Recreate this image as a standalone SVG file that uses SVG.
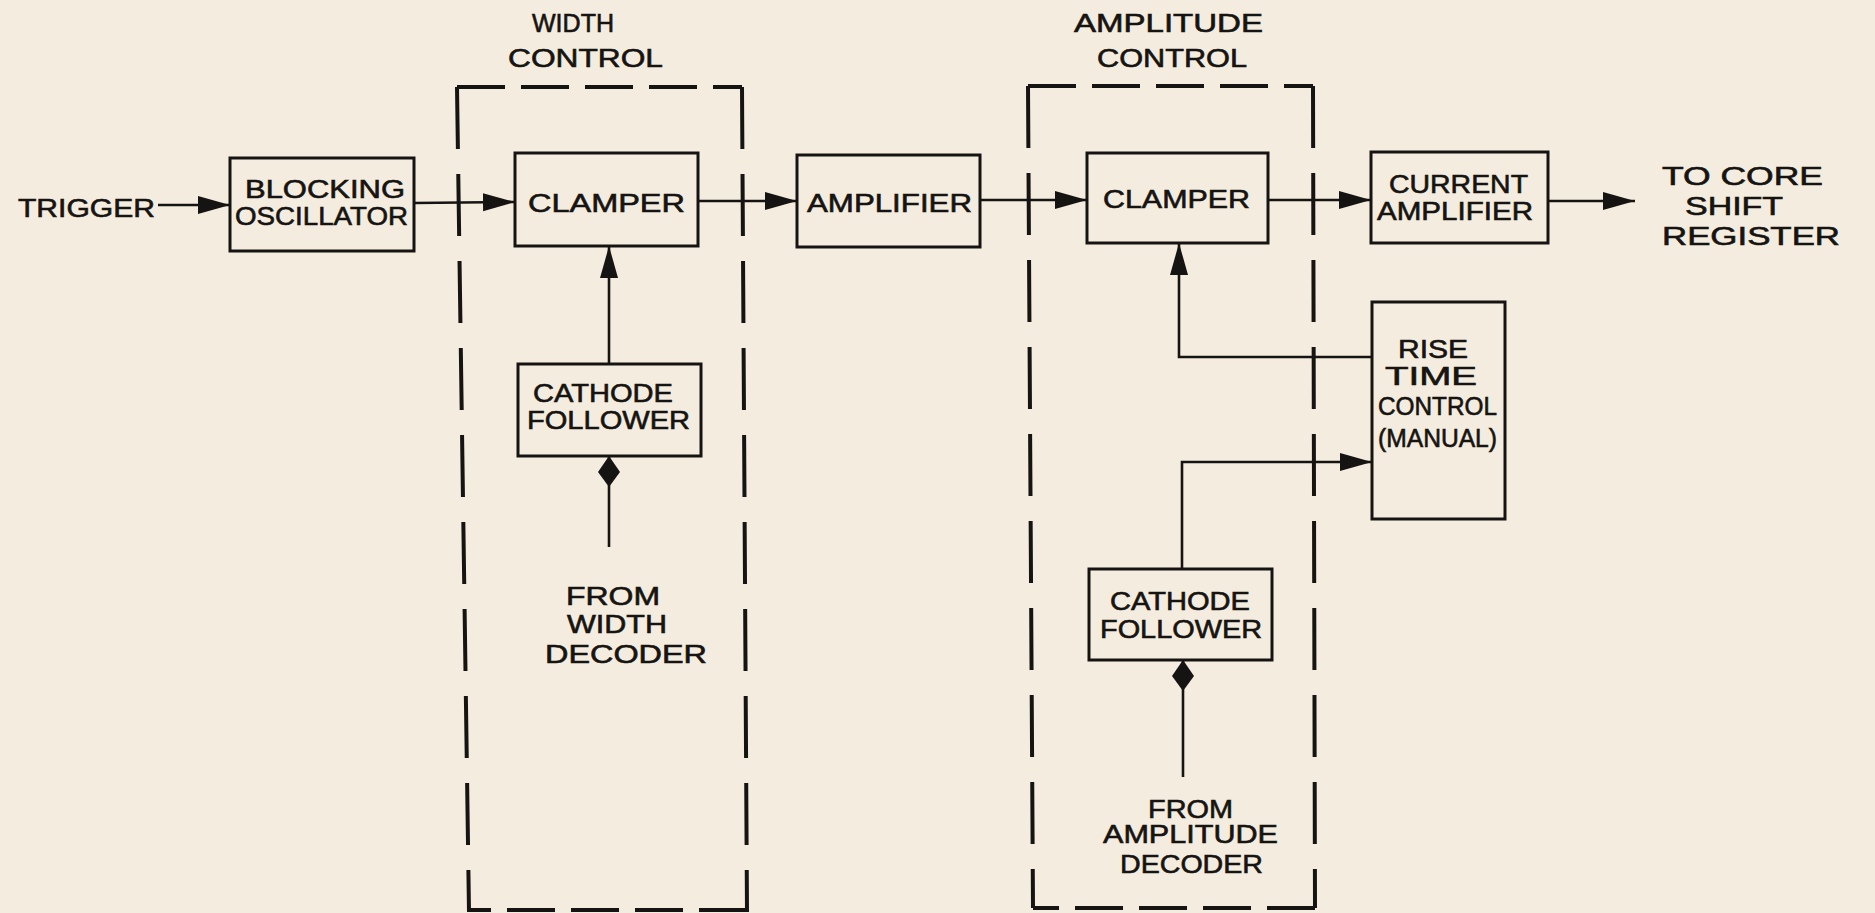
<svg xmlns="http://www.w3.org/2000/svg" width="1875" height="913" viewBox="0 0 1875 913">
<style>
  .bg { fill: #f4ecde; }
  .box { fill: none; stroke: #161412; stroke-width: 3; }
  .dashh { fill: none; stroke: #161412; stroke-width: 4; stroke-dasharray: 48 16; }
  .dashv { fill: none; stroke: #161412; stroke-width: 4; stroke-dasharray: 62 25; }
  .wire { fill: none; stroke: #161412; stroke-width: 2.6; }
  text { font-family: "Liberation Sans", "DejaVu Sans", sans-serif; font-size: 25px; fill: #161412; stroke: #161412; stroke-width: 0.6; }
</style>
<defs>
  <marker id="arrow" markerUnits="userSpaceOnUse" markerWidth="33" markerHeight="20" refX="32" refY="10" orient="auto">
    <path d="M0,1 L32,10 L0,19 z" fill="#161412"/>
  </marker>
  <marker id="diamond" markerUnits="userSpaceOnUse" markerWidth="32" markerHeight="24" refX="31" refY="11" orient="auto">
    <path d="M0,11 L15,0 L31,11 L15,22 z" fill="#161412"/>
  </marker>
</defs>
<rect class="bg" x="0" y="0" width="1875" height="913"/>

<g id="width-control">
  <line class="dashh" x1="457" y1="87" x2="742" y2="87"/>
  <line class="dashv" x1="457" y1="87" x2="469" y2="912"/>
  <line class="dashv" x1="742" y1="87" x2="747" y2="912"/>
  <line class="dashh" x1="747" y1="910" x2="469" y2="910"/>
  <text x="532" y="32" textLength="82" lengthAdjust="spacingAndGlyphs">WIDTH</text>
  <text x="508" y="67" textLength="155" lengthAdjust="spacingAndGlyphs">CONTROL</text>
</g>

<g id="amplitude-control">
  <line class="dashh" x1="1028" y1="86" x2="1313" y2="86"/>
  <line class="dashv" x1="1028" y1="86" x2="1033" y2="908"/>
  <line class="dashv" x1="1313" y1="86" x2="1315" y2="908"/>
  <line class="dashh" x1="1315" y1="908" x2="1033" y2="908"/>
  <text x="1074" y="32" textLength="189" lengthAdjust="spacingAndGlyphs">AMPLITUDE</text>
  <text x="1097" y="67" textLength="150" lengthAdjust="spacingAndGlyphs">CONTROL</text>
</g>

<g id="trigger">
  <text x="18" y="217" textLength="137" lengthAdjust="spacingAndGlyphs">TRIGGER</text>
</g>

<g id="blocking-oscillator">
  <rect class="box" x="230" y="158" width="184" height="93"/>
  <text x="245" y="198" textLength="160" lengthAdjust="spacingAndGlyphs">BLOCKING</text>
  <text x="235" y="225" textLength="173" lengthAdjust="spacingAndGlyphs">OSCILLATOR</text>
</g>

<g id="clamper-1">
  <rect class="box" x="515" y="153" width="183" height="93"/>
  <text x="528" y="212" textLength="157" lengthAdjust="spacingAndGlyphs">CLAMPER</text>
</g>

<g id="cathode-follower-1">
  <rect class="box" x="518" y="364" width="183" height="92"/>
  <text x="533" y="402" textLength="140" lengthAdjust="spacingAndGlyphs">CATHODE</text>
  <text x="527" y="429" textLength="163" lengthAdjust="spacingAndGlyphs">FOLLOWER</text>
</g>

<g id="from-width-decoder">
  <text x="566" y="605" textLength="94" lengthAdjust="spacingAndGlyphs">FROM</text>
  <text x="567" y="633" textLength="100" lengthAdjust="spacingAndGlyphs">WIDTH</text>
  <text x="545" y="663" textLength="162" lengthAdjust="spacingAndGlyphs">DECODER</text>
</g>

<g id="amplifier">
  <rect class="box" x="797" y="155" width="183" height="92"/>
  <text x="807" y="212" textLength="165" lengthAdjust="spacingAndGlyphs">AMPLIFIER</text>
</g>

<g id="clamper-2">
  <rect class="box" x="1087" y="153" width="181" height="90"/>
  <text x="1103" y="208" textLength="147" lengthAdjust="spacingAndGlyphs">CLAMPER</text>
</g>

<g id="current-amplifier">
  <rect class="box" x="1371" y="152" width="177" height="91"/>
  <text x="1389" y="193" textLength="139" lengthAdjust="spacingAndGlyphs">CURRENT</text>
  <text x="1377" y="220" textLength="156" lengthAdjust="spacingAndGlyphs">AMPLIFIER</text>
</g>

<g id="to-core-shift-register">
  <text x="1662" y="185" textLength="161" lengthAdjust="spacingAndGlyphs">TO CORE</text>
  <text x="1685" y="215" textLength="98" lengthAdjust="spacingAndGlyphs">SHIFT</text>
  <text x="1662" y="245" textLength="178" lengthAdjust="spacingAndGlyphs">REGISTER</text>
</g>

<g id="rise-time-control">
  <rect class="box" x="1372" y="302" width="133" height="217"/>
  <text x="1398" y="358" textLength="70" lengthAdjust="spacingAndGlyphs">RISE</text>
  <text x="1385" y="385" textLength="92" lengthAdjust="spacingAndGlyphs">TIME</text>
  <text x="1378" y="415" textLength="119" lengthAdjust="spacingAndGlyphs">CONTROL</text>
  <text x="1378" y="447" textLength="119" lengthAdjust="spacingAndGlyphs">(MANUAL)</text>
</g>

<g id="cathode-follower-2">
  <rect class="box" x="1089" y="569" width="183" height="91"/>
  <text x="1110" y="610" textLength="140" lengthAdjust="spacingAndGlyphs">CATHODE</text>
  <text x="1100" y="638" textLength="162" lengthAdjust="spacingAndGlyphs">FOLLOWER</text>
</g>

<g id="from-amplitude-decoder">
  <text x="1148" y="818" textLength="85" lengthAdjust="spacingAndGlyphs">FROM</text>
  <text x="1103" y="843" textLength="175" lengthAdjust="spacingAndGlyphs">AMPLITUDE</text>
  <text x="1120" y="873" textLength="143" lengthAdjust="spacingAndGlyphs">DECODER</text>
</g>

<g id="connectors">
  <line class="wire" x1="158" y1="205" x2="230" y2="205" marker-end="url(#arrow)"/>
  <line class="wire" x1="414" y1="203" x2="515" y2="202" marker-end="url(#arrow)"/>
  <line class="wire" x1="698" y1="201" x2="797" y2="201" marker-end="url(#arrow)"/>
  <line class="wire" x1="980" y1="200" x2="1087" y2="200" marker-end="url(#arrow)"/>
  <line class="wire" x1="1268" y1="200" x2="1371" y2="200" marker-end="url(#arrow)"/>
  <line class="wire" x1="1548" y1="201" x2="1635" y2="201" marker-end="url(#arrow)"/>
  <line class="wire" x1="609" y1="364" x2="609" y2="246" marker-end="url(#arrow)"/>
  <line class="wire" x1="609" y1="547" x2="609" y2="456" marker-end="url(#diamond)"/>
  <path class="wire" d="M1372,357 H1179 V243" marker-end="url(#arrow)"/>
  <path class="wire" d="M1182,569 V462 H1372" marker-end="url(#arrow)"/>
  <line class="wire" x1="1183" y1="777" x2="1183" y2="660" marker-end="url(#diamond)"/>
</g>
</svg>
